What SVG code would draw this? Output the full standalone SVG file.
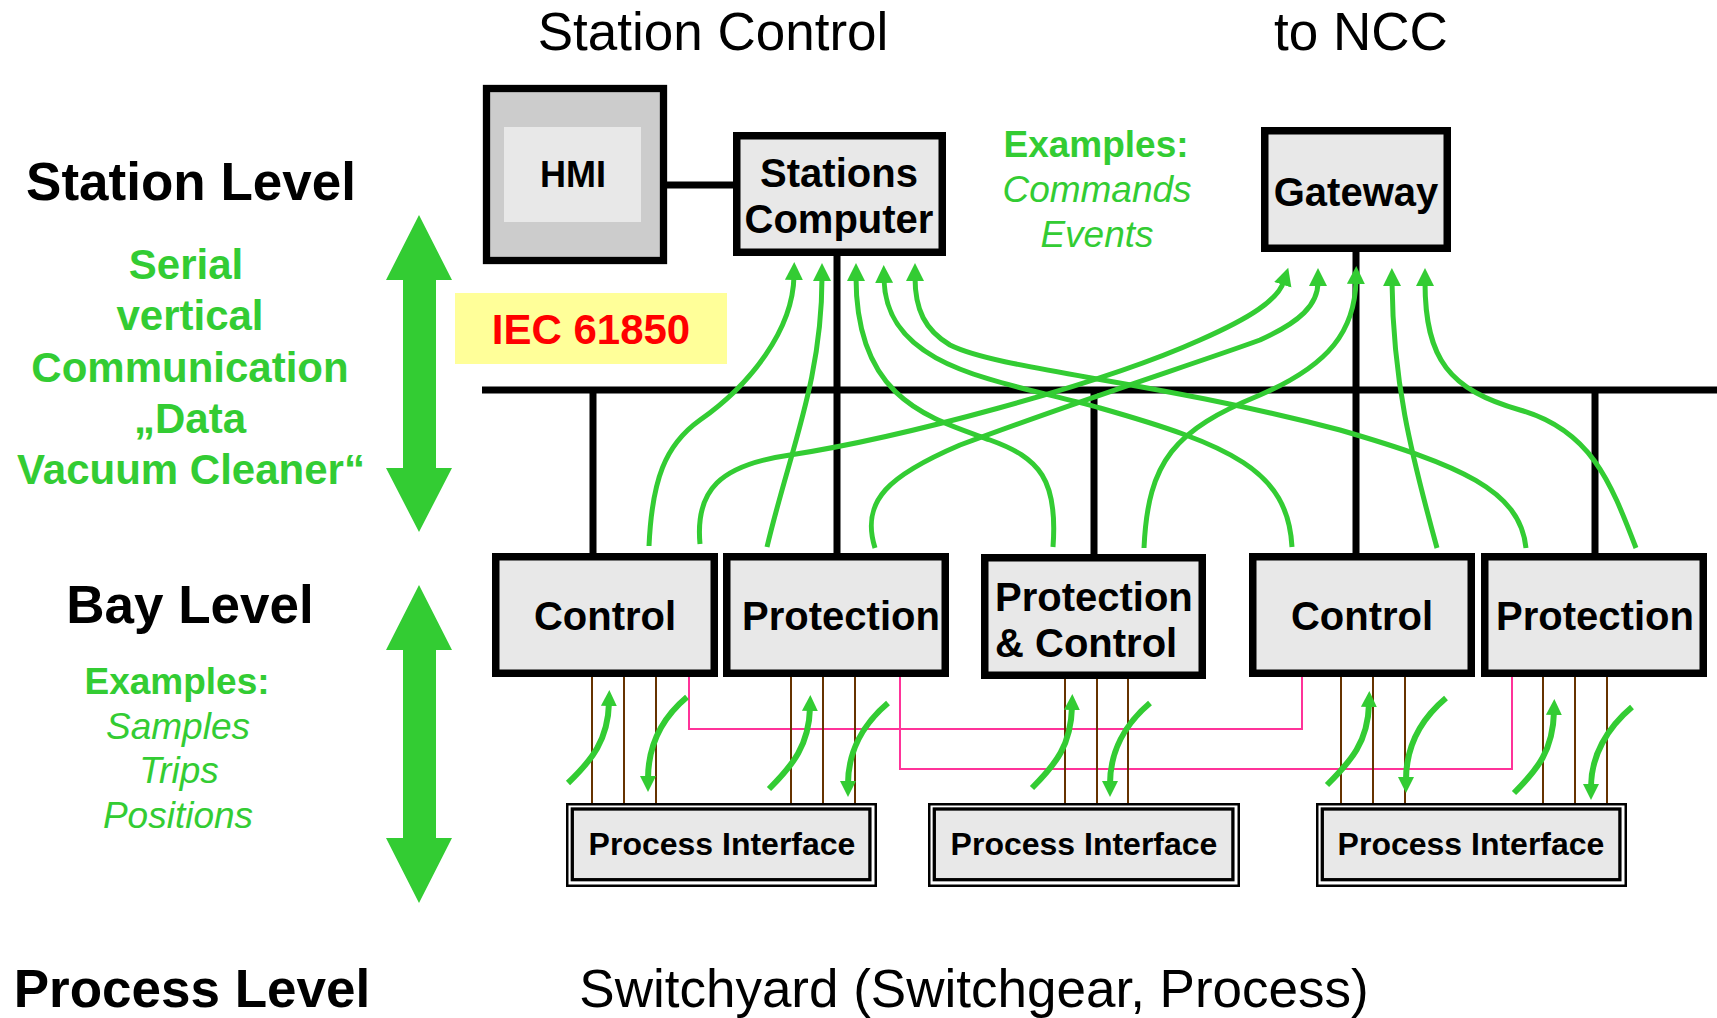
<svg xmlns="http://www.w3.org/2000/svg" width="1717" height="1018" viewBox="0 0 1717 1018">
<defs>
<style>
text{font-family:"Liberation Sans",Arial,sans-serif}
.t53{font-size:53px}
.b{font-weight:bold}
.mid{text-anchor:middle}
.g{fill:#33cc33}
.box{fill:#e8e8e8;stroke:#000;stroke-width:7.5}
.bus{stroke:#000;stroke-width:7;fill:none}
.gc{fill:none;stroke:#33cc33;stroke-width:5;marker-end:url(#ah)}
.gs{fill:none;stroke:#33cc33;stroke-width:6;marker-end:url(#ah2)}
.br{stroke:#663300;stroke-width:2;fill:none}
.pk{stroke:#ff3399;stroke-width:2;fill:none}
.nt{font-size:40px;font-weight:bold}
.pio{fill:#fff;stroke:#000;stroke-width:2.5}
.pii{fill:#e8e8e8;stroke:#000;stroke-width:3.3}
.pit{font-size:32px;font-weight:bold;text-anchor:middle}
</style>
<marker id="ah" markerUnits="userSpaceOnUse" markerWidth="22" markerHeight="22" viewBox="0 0 22 22" refX="4" refY="11" orient="auto"><path d="M0,2 L18,11 L0,20 z" fill="#33cc33"/></marker>
<marker id="ah2" markerUnits="userSpaceOnUse" markerWidth="22" markerHeight="22" viewBox="0 0 22 22" refX="3" refY="11" orient="auto"><path d="M0,3 L16,11 L0,19 z" fill="#33cc33"/></marker>
</defs>
<rect width="1717" height="1018" fill="#fff"/>

<g id="titles">
<text class="t53 mid" x="713" y="50">Station Control</text>
<text class="t53 mid" x="1361" y="50">to NCC</text>
<text class="t53 b mid" x="191" y="200">Station Level</text>
<text class="t53 b mid" x="190" y="623">Bay Level</text>
<text class="t53 b mid" x="192" y="1007">Process Level</text>
<text class="t53 mid" x="974" y="1007">Switchyard (Switchgear, Process)</text>
</g>

<g id="serial-label" class="g b mid" font-size="42">
<text x="186" y="279" class="g b mid">Serial</text>
<text x="190" y="330" class="g b mid">vertical</text>
<text x="190" y="382" class="g b mid">Communication</text>
<text x="190" y="433" class="g b mid">„Data</text>
<text x="191" y="484" class="g b mid">Vacuum Cleaner“</text>
</g>

<g id="bay-examples" font-size="37">
<text x="177" y="694" class="g b mid">Examples:</text>
<text x="178" y="739" class="g mid" font-style="italic">Samples</text>
<text x="179" y="783" class="g mid" font-style="italic">Trips</text>
<text x="178" y="828" class="g mid" font-style="italic">Positions</text>
</g>

<g id="station-examples" font-size="37">
<text x="1096" y="157" class="g b mid">Examples:</text>
<text x="1097" y="202" class="g mid" font-style="italic">Commands</text>
<text x="1097" y="247" class="g mid" font-style="italic">Events</text>
</g>

<g id="level-arrows" fill="#33cc33">
<polygon points="419,215 452,280 436,280 436,468 452,468 419,532 386,468 403,468 403,280 386,280"/>
<polygon points="419,585 452,650 436,650 436,838 452,838 419,903 386,838 403,838 403,650 386,650"/>
</g>

<g id="iec61850">
<rect x="455" y="293" width="272" height="71" fill="#ffff99"/>
<text x="591" y="344" class="mid b" font-size="42" fill="#ff0000">IEC 61850</text>
</g>

<g id="connectors">
<line class="bus" x1="482" y1="390" x2="1717" y2="390" stroke-width="8"/>
<line class="bus" x1="667" y1="185" x2="734" y2="185" stroke-width="6"/>
<line class="bus" x1="837" y1="256" x2="837" y2="554"/>
<line class="bus" x1="593" y1="390" x2="593" y2="554"/>
<line class="bus" x1="1094" y1="390" x2="1094" y2="555"/>
<line class="bus" x1="1356" y1="252" x2="1356" y2="554"/>
<line class="bus" x1="1595" y1="390" x2="1595" y2="554"/>

<path class="pk" d="M689,677 V729 H1302 V677"/>
<path class="pk" d="M900,677 V769 H1512 V677"/>

<path class="br" d="M592,677V803M624,677V803M656,677V803M791,677V803M823,677V803M855,677V803M1065,679V803M1097,679V803M1128,679V803M1341,677V803M1373,677V803M1405,677V803M1543,677V803M1575,677V803M1607,677V803"/>

<path class="gc" d="M649,546 C652,480 665,445 700,420 C750,385 793,330 794,276"/>
<path class="gc" d="M767,547 C790,450 822,380 822,277"/>
<path class="gc" d="M1053,547 C1058,480 1040,458 990,440 C930,418 856,400 856,277"/>
<path class="gc" d="M1292,547 C1288,470 1230,445 1100,408 C1000,380 886,370 884,279"/>
<path class="gc" d="M1526,548 C1520,490 1460,465 1340,430 C1150,380 1000,370 950,345 C925,330 915,310 915,277"/>
<path class="gc" d="M700,544 C695,490 720,465 790,455 C900,438 1100,385 1200,340 C1250,318 1278,300 1284,281"/>
<path class="gc" d="M875,548 C860,500 890,475 960,445 C1080,400 1200,362 1260,340 C1300,322 1318,305 1318,282"/>
<path class="gc" d="M1144,548 C1148,460 1175,430 1260,395 C1330,365 1355,330 1356,280"/>
<path class="gc" d="M1437,548 C1410,450 1393,380 1392,282"/>
<path class="gc" d="M1636,548 C1610,480 1590,430 1520,410 C1450,390 1425,360 1425,282"/>

<path class="gs" d="M568,783 C592,760 608,740 609,703"/>
<path class="gs" d="M687,697 C662,718 648,745 648,779"/>
<path class="gs" d="M769,789 C793,765 809,745 810,708"/>
<path class="gs" d="M888,703 C863,724 848,752 848,784"/>
<path class="gs" d="M1032,788 C1056,764 1071,745 1072,707"/>
<path class="gs" d="M1150,703 C1125,724 1110,752 1110,784"/>
<path class="gs" d="M1327,785 C1351,761 1368,742 1369,704"/>
<path class="gs" d="M1446,698 C1421,719 1406,747 1406,780"/>
<path class="gs" d="M1514,793 C1538,769 1553,750 1554,712"/>
<path class="gs" d="M1632,707 C1607,728 1591,756 1591,787"/>
</g>

<g id="hmi">
<rect x="486.5" y="88.5" width="177" height="172" fill="#cccccc" stroke="#000" stroke-width="7.3"/>
<rect x="504" y="127" width="137" height="95" fill="#e8e8e8"/>
<text x="573" y="187" class="mid b" font-size="36">HMI</text>
</g>

<g id="stations-computer">
<rect class="box" x="736.75" y="135.75" width="205.5" height="116.5"/>
<text x="839" y="187" class="mid nt">Stations</text>
<text x="839" y="233" class="mid nt">Computer</text>
</g>

<g id="gateway">
<rect class="box" x="1264.75" y="130.75" width="182.5" height="117.5"/>
<text x="1356" y="206" class="mid nt">Gateway</text>
</g>

<g id="bay-control-1">
<rect class="box" x="495.75" y="556.75" width="218.5" height="116.5"/>
<text x="605" y="630" class="mid nt">Control</text>
</g>
<g id="bay-protection-1">
<rect class="box" x="726.75" y="556.75" width="218.5" height="116.5"/>
<text x="841" y="630" class="mid nt">Protection</text>
</g>
<g id="bay-protection-control">
<rect class="box" x="984.75" y="557.75" width="217.5" height="117.5"/>
<text x="995" y="611" class="nt">Protection</text>
<text x="995" y="657" class="nt">&amp; Control</text>
</g>
<g id="bay-control-2">
<rect class="box" x="1252.75" y="556.75" width="218.5" height="116.5"/>
<text x="1362" y="630" class="mid nt">Control</text>
</g>
<g id="bay-protection-2">
<rect class="box" x="1484.75" y="556.75" width="218.5" height="116.5"/>
<text x="1595" y="630" class="mid nt">Protection</text>
</g>

<g id="process-interface-1">
<rect class="pio" x="567.25" y="804.25" width="308.5" height="81.5"/>
<rect class="pii" x="572.3" y="809" width="297.6" height="70.7"/>
<text x="722" y="855" class="pit">Process Interface</text>
</g>
<g id="process-interface-2">
<rect class="pio" x="929.25" y="804.25" width="309.5" height="81.5"/>
<rect class="pii" x="934.3" y="809" width="298.6" height="70.7"/>
<text x="1084" y="855" class="pit">Process Interface</text>
</g>
<g id="process-interface-3">
<rect class="pio" x="1317.25" y="804.25" width="308.5" height="81.5"/>
<rect class="pii" x="1322.3" y="809" width="297.6" height="70.7"/>
<text x="1471" y="855" class="pit">Process Interface</text>
</g>
</svg>
